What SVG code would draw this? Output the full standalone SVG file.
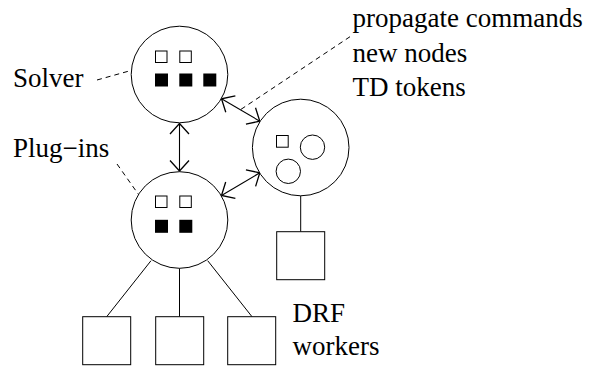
<svg xmlns="http://www.w3.org/2000/svg" width="589" height="367" viewBox="0 0 589 367">
  <style>
    .shape { fill: #ffffff; stroke: #000000; stroke-width: 1; }
    .hollow { fill: none; stroke: #000000; stroke-width: 1; }
    .solid { fill: #000000; stroke: none; }
    .link { fill: none; stroke: #000000; stroke-width: 1; }
    .dash { fill: none; stroke: #000000; stroke-width: 1; stroke-dasharray: 5 4; }
    .arrow { fill: none; stroke: #000000; stroke-width: 1.1; marker-start: url(#head); marker-end: url(#head); }
    text { font-family: "Times New Roman", "Liberation Serif", "DejaVu Serif", serif; font-size: 27px; fill: #000000; }
  </style>
  <defs>
    <marker id="head" markerUnits="userSpaceOnUse" viewBox="-12 -11 14 22" refX="0" refY="0" markerWidth="14" markerHeight="22" orient="auto-start-reverse" overflow="visible">
      <path d="M -10.5 -9.5 L 0 0 L -10.5 9.5" fill="none" stroke="#000000" stroke-width="1.3"/>
    </marker>
  </defs>

  <!-- connectors -->
  <g id="connectors">
    <line class="arrow" x1="179.5" y1="123.5" x2="179.5" y2="171"/>
    <line class="arrow" x1="221.5" y1="98.8" x2="259.8" y2="121.2"/>
    <line class="arrow" x1="221.5" y1="195.5" x2="259.8" y2="172.8"/>
    <line class="link" x1="151" y1="260.7" x2="106.7" y2="316.7"/>
    <line class="link" x1="179.5" y1="268.3" x2="179.5" y2="316.7"/>
    <line class="link" x1="207.7" y1="260.7" x2="252" y2="316.7"/>
    <line class="link" x1="300.7" y1="195.8" x2="300.7" y2="231.7"/>
    <line class="dash" x1="97" y1="80" x2="131" y2="70.5"/>
    <line class="dash" x1="117" y1="164" x2="153" y2="215"/>
    <line class="dash" x1="350" y1="36.7" x2="240" y2="110"/>
  </g>

  <!-- solver -->
  <g id="solver">
    <circle class="shape" cx="179.5" cy="74.5" r="48.3"/>
    <rect class="hollow" x="155.5" y="51" width="11.5" height="11.5"/>
    <rect class="hollow" x="179.8" y="51" width="11.5" height="11.5"/>
    <rect class="solid" x="155" y="73.5" width="13" height="13"/>
    <rect class="solid" x="179.3" y="73.5" width="13" height="13"/>
    <rect class="solid" x="203.3" y="73.5" width="13" height="13"/>
  </g>

  <!-- plug-in host -->
  <g id="plugins">
    <circle class="shape" cx="179.5" cy="220" r="48.3"/>
    <rect class="hollow" x="155.5" y="196" width="11.5" height="11.5"/>
    <rect class="hollow" x="179.8" y="196" width="11.5" height="11.5"/>
    <rect class="solid" x="155" y="219.8" width="13" height="13"/>
    <rect class="solid" x="179.3" y="219.8" width="13" height="13"/>
  </g>

  <!-- td node -->
  <g id="td">
    <circle class="shape" cx="300.7" cy="147.5" r="48.3"/>
    <rect class="hollow" x="276.5" y="135.5" width="11.7" height="11.7"/>
    <circle class="hollow" cx="312.5" cy="147.2" r="12.2"/>
    <circle class="hollow" cx="288.3" cy="171.3" r="12.2"/>
  </g>

  <!-- workers -->
  <g id="worker-td">
    <rect class="shape" x="276.7" y="231.7" width="48" height="48"/>
  </g>
  <g id="worker-1">
    <rect class="shape" x="82.7" y="316.7" width="48" height="48"/>
  </g>
  <g id="worker-2">
    <rect class="shape" x="155.7" y="316.7" width="48" height="48"/>
  </g>
  <g id="worker-3">
    <rect class="shape" x="227.7" y="316.7" width="48" height="48"/>
  </g>

  <!-- labels -->
  <g id="labels">
    <text x="13" y="87">Solver</text>
    <text x="13" y="157">Plug−ins</text>
    <text x="352.5" y="26.7">propagate commands</text>
    <text x="352.5" y="61.5">new nodes</text>
    <text x="352.5" y="95.5">TD tokens</text>
    <text x="292.5" y="321.7">DRF</text>
    <text x="292.5" y="355">workers</text>
  </g>
</svg>
